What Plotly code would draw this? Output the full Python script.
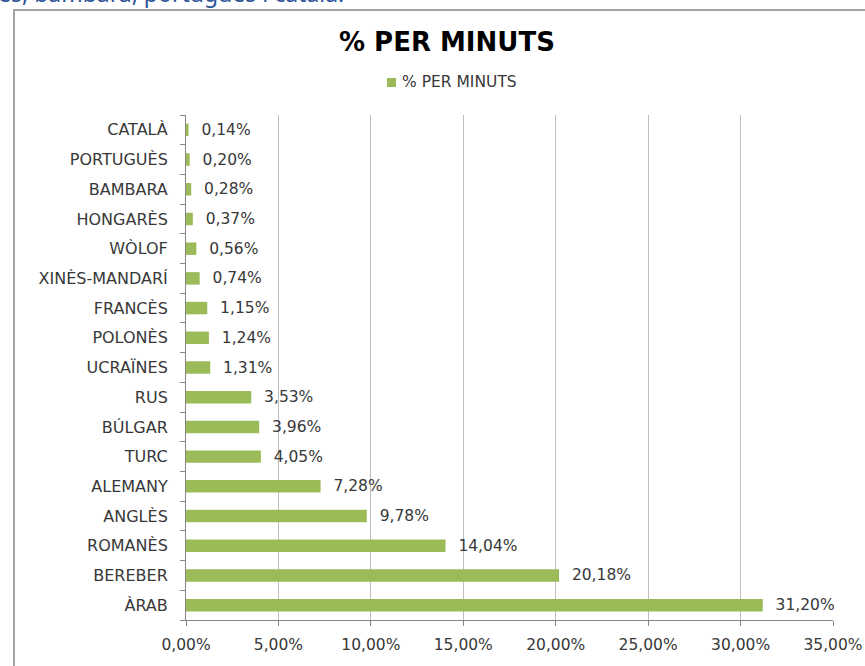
import plotly.graph_objects as go

# Share of minutes per language (percent), bottom to top
languages = ["ÀRAB", "BEREBER", "ROMANÈS", "ANGLÈS", "ALEMANY", "TURC", "BÚLGAR",
             "RUS", "UCRAÏNES", "POLONÈS", "FRANCÈS", "XINÈS-MANDARÍ", "WÒLOF",
             "HONGARÈS", "BAMBARA", "PORTUGUÈS", "CATALÀ"]
percent_minutes = [31.20, 20.18, 14.04, 9.78, 7.28, 4.05, 3.96,
                   3.53, 1.31, 1.24, 1.15, 0.74, 0.56,
                   0.37, 0.28, 0.20, 0.14]
x_ticks = [0, 0.05, 0.10, 0.15, 0.20, 0.25, 0.30, 0.35]
series_name = "% PER MINUTS"

W, H = 865, 666
ML, MR, MT, MB = 186, 32, 115, 46
PW, PH = W - ML - MR, H - MT - MB


def px_x(p):
    return (p - ML) / PW


def px_y(p):
    return (H - MB - p) / PH


FONT = "DejaVu Sans"
GREEN = "#9BBB59"
AXIS = "#868686"
GRID = "#BFBFBF"
TEXT = "#383838"

fig = go.Figure()
fig.add_trace(go.Bar(
    y=languages,
    x=[v / 100 for v in percent_minutes],
    orientation="h",
    name=series_name,
    marker=dict(color=GREEN, line=dict(width=0)),
    width=0.42,
    texttemplate="\u00a0\u00a0%{x:.2%}",
    textposition="outside",
    constraintext="none",
    textfont=dict(family=FONT, size=15.5, color=TEXT),
    cliponaxis=False,
    hoverinfo="skip",
    showlegend=False,
))

fig.update_layout(
    width=W, height=H,
    margin=dict(l=ML, r=MR, t=MT, b=MB, autoexpand=False),
    paper_bgcolor="white",
    plot_bgcolor="white",
    separators=",.",
    showlegend=False,
    xaxis=dict(range=[0, 0.35], tickvals=x_ticks, tickformat=".2%",
               showgrid=True, gridcolor=GRID, gridwidth=1,
               showline=True, linecolor=AXIS, linewidth=1,
               ticks="outside", ticklen=5, tickcolor=AXIS,
               tickfont=dict(family=FONT, size=15.5, color=TEXT),
               ticklabelstandoff=5, zeroline=False, fixedrange=True,
               automargin=False),
    yaxis=dict(type="category", categoryorder="array", categoryarray=languages,
               showgrid=False, showline=True, linecolor=AXIS, linewidth=1,
               ticks="outside", ticklen=5, tickcolor=AXIS, tickson="boundaries",
               tickfont=dict(family=FONT, size=16, color=TEXT),
               ticklabelstandoff=14, fixedrange=True, automargin=False),
)

# Chart title
fig.add_annotation(text="<b>% PER MINUTS</b>", x=px_x(447), y=px_y(42),
                   xref="paper", yref="paper", showarrow=False,
                   xanchor="center", yanchor="middle",
                   font=dict(family=FONT, size=26, color="#000000"))

# Legend: swatch plus series name
fig.add_shape(type="rect", xref="paper", yref="paper",
              x0=px_x(387), x1=px_x(396), y0=px_y(87), y1=px_y(78),
              line=dict(width=0), fillcolor=GREEN)
fig.add_annotation(text=series_name, x=px_x(400), y=px_y(82),
                   xref="paper", yref="paper", showarrow=False,
                   xanchor="left", yanchor="middle",
                   font=dict(family=FONT, size=15.5, color=TEXT))

# Tail of the caption line above the chart frame
fig.add_annotation(text="es, bambara, portuguès i català.", x=px_x(-4), y=px_y(-7),
                   xref="paper", yref="paper", showarrow=False,
                   xanchor="left", yanchor="middle",
                   font=dict(family="Noto Sans", size=23, color="#2E5597"))

# Chart frame
fig.add_shape(type="rect", xref="paper", yref="paper",
              x0=px_x(14), y0=px_y(H + 20), x1=px_x(W + 20), y1=px_y(10),
              line=dict(color=AXIS, width=1.5), fillcolor="rgba(0,0,0,0)", layer="below")

fig.write_html("out.html")
